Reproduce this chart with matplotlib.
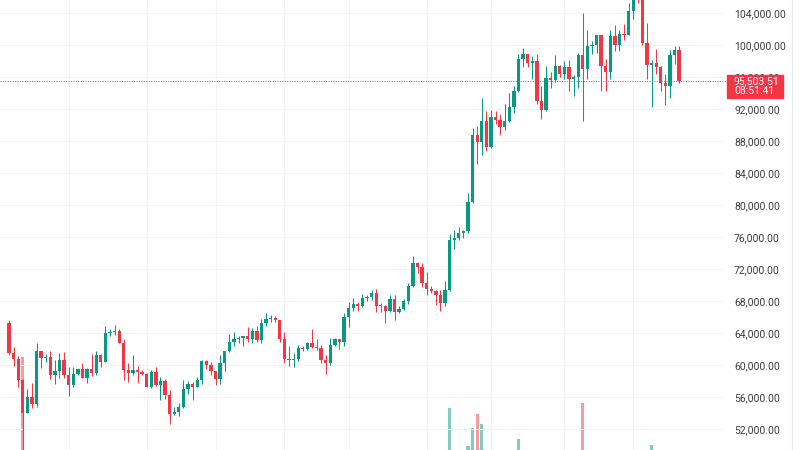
import numpy as np
import pandas as pd
import matplotlib
matplotlib.use('Agg')
import matplotlib.pyplot as plt
from matplotlib.lines import Line2D
from matplotlib.patches import Rectangle

plt.rcParams['font.family'] = ['Roboto', 'DejaVu Sans']

# daily candles, 2 Aug 2024 .. 26 Dec 2024
dates = pd.date_range('2024-08-02', '2024-12-26', freq='D')
first_open = 65300
closes = [
    # Aug
    61500, 60700, 58100, 54000, 56000, 55100, 61700, 60900, 61000, 58700,
    59300, 60600, 58700, 57500, 58900, 59500, 58400, 59500, 59000, 61200,
    60400, 64000, 64100, 64200, 62800, 59400, 59000, 59400, 59100, 58900,
    # Sep
    57300, 59100, 57500, 58000, 56200, 53900, 54100, 54800, 57000, 57600,
    57300, 58100, 60500, 60000, 59200, 58200, 60300, 61800, 62900, 63200,
    63400, 63600, 63300, 64300, 63100, 65200, 65800, 65900, 65600, 63300,
    # Oct
    60800, 60600, 60700, 62100, 62050, 62800, 62200, 62100, 60600, 60300,
    62500, 63200, 62900, 66000, 67100, 67600, 67400, 68400, 68450, 69000,
    67400, 67350, 66700, 68200, 66600, 67000, 68000, 69900, 72700, 72300,
    70200,
    # Nov
    69500, 69300, 68800, 67800, 69400, 75600, 75900, 76500, 76700, 80400,
    88700, 87900, 90500, 87300, 91000, 90600, 89800, 90500, 92300, 94300,
    98300, 98900, 97800, 98000, 93000, 91900, 95900, 95600, 97400, 96400,
    # Dec
    97200, 95800, 96000, 98800, 97000, 99900, 99950, 101200, 97400, 96600,
    101100, 100000, 101400, 101300, 104300, 106100, 106050, 100200, 97500, 97800,
    97300, 95200, 94900, 98700, 99400, 95503.51,
]
highs = [
    65600, 62200, 61100, 58300, 57000, 57700, 62700, 61800, 61400, 61800,
    60600, 61500, 61600, 59800, 59800, 59600, 60200, 59600, 61400, 61800,
    61400, 64900, 64500, 65000, 64500, 63200, 60200, 61200, 59900, 59400,
    59000, 59400, 59800, 58500, 58300, 56900, 54800, 55300, 58100, 58000,
    57900, 58500, 60600, 60600, 60400, 59200, 61300, 61800, 63900, 64100,
    63600, 63600, 64800, 64600, 64900, 65800, 66500, 66300, 66100, 65600,
    64100, 62400, 61500, 62500, 62400, 62900, 64500, 63200, 62500, 61300,
    63400, 63400, 63300, 66500, 67900, 68400, 67900, 68900, 68700, 69400,
    69500, 67800, 67500, 68800, 68800, 67400, 68300, 70300, 73600, 72900,
    72700,
    71600, 69900, 69400, 69400, 70500, 76400, 76900, 77200, 76900, 81500,
    89600, 89900, 93400, 91800, 91900, 91800, 91400, 92600, 94000, 94900,
    98900, 99600, 98900, 98600, 98900, 94900, 97400, 96600, 98700, 97500,
    98000, 98100, 96300, 99000, 104000, 101900, 100500, 101300, 101200, 98300,
    101900, 102500, 101900, 102600, 105200, 107800, 108300, 106500, 102800, 98100,
    99500, 97400, 96400, 99400, 99900, 99900,
]
lows = [
    61200, 59900, 57200, 49100, 54000, 54600, 54700, 59600, 60400, 58300,
    57600, 58400, 58400, 56100, 57300, 58800, 58400, 57800, 58600, 58800,
    59800, 60400, 63600, 63800, 62800, 58100, 57900, 58800, 57800, 58700,
    57200, 57100, 57400, 55600, 55700, 52600, 53800, 53600, 54600, 56400,
    55600, 57200, 57600, 59500, 58700, 57500, 57600, 59200, 61600, 62400,
    62800, 62400, 62900, 62800, 62900, 62700, 64900, 65400, 65400, 62900,
    60200, 59900, 59800, 60500, 61700, 61900, 62100, 61900, 60300, 58900,
    60000, 62400, 62000, 62400, 64800, 66800, 66700, 67200, 68000, 68100,
    66600, 66600, 65300, 66600, 65600, 66500, 66900, 67600, 69700, 71500,
    69700,
    68800, 69000, 67500, 66800, 67400, 69300, 74500, 75600, 75900, 76500,
    80200, 85100, 86200, 86700, 87100, 90100, 88800, 89400, 90400, 91500,
    94100, 97200, 97200, 95800, 92600, 90800, 91800, 94600, 95400, 96000,
    95700, 94300, 93600, 94600, 90500, 95700, 98900, 99000, 94200, 94300,
    95700, 99300, 99200, 100600, 101200, 103300, 105300, 100000, 95700, 92200,
    96400, 94200, 92500, 93400, 97600, 95200,
]
volumes = [
    38, 22, 25, 143, 45, 40, 44, 30, 14, 20, 32, 30, 30, 34, 28, 12, 14, 26, 30, 32,
    26, 40, 16, 14, 22, 38, 34, 28, 26, 12,
    16, 28, 30, 34, 30, 40, 16, 14, 32, 28, 30, 26, 32, 14, 14, 28, 32, 36, 34, 28,
    12, 12, 28, 26, 28, 34, 30, 12, 12, 30,
    40, 34, 28, 24, 10, 14, 30, 24, 26, 32, 32, 12, 14, 38, 44, 36, 30, 28, 12, 16,
    32, 26, 30, 28, 34, 14, 14, 32, 44, 30, 34,
    32, 16, 20, 32, 34, 92, 40, 36, 24, 54, 72, 86, 76, 45, 44, 30, 30, 40, 42, 44,
    61, 42, 30, 28, 45, 45, 40, 28, 30, 20,
    22, 40, 38, 42, 97, 45, 18, 22, 45, 40, 38, 34, 30, 18, 24, 45, 40, 45, 45, 55,
    28, 24, 32, 30, 18, 30,
]
price_ticks = list(range(52000, 104001, 4000))
grid_dates = ['2024-08-15', '2024-09-01', '2024-09-16', '2024-10-01', '2024-10-15',
              '2024-11-01', '2024-11-15', '2024-12-01', '2024-12-16']
countdown = '08:51:41'

opens = [first_open] + closes[:-1]

UP = '#089981'
DOWN = '#f23645'
GRID = '#f0f3fa'

W, H = 800, 450
plot_w = 726
step = 4.59  # pixels per candle
xlim = (-9 / step, (plot_w - 9) / step)
ylim = (104000 - 437 * 125, 104000 + 13 * 125)

fig = plt.figure(figsize=(W / 100, H / 100), dpi=100)
fig.patch.set_facecolor('white')

# volume pane sits at the bottom, mostly below the visible area
ax_vol = fig.add_axes([0, -50 / H, plot_w / W, 200 / H])
ax = fig.add_axes([0, 0, plot_w / W, 1])
ax.patch.set_alpha(0)

x = np.arange(len(dates))
o = np.array(opens, dtype=float)
c = np.array(closes, dtype=float)
colors = np.where(c >= o, UP, DOWN)

ax_vol.bar(x, volumes, width=0.72, color=colors, alpha=0.5, linewidth=0)
ax_vol.set_xlim(xlim)
ax_vol.set_ylim(0, 200)
ax_vol.axis('off')

# candles
ax.vlines(x, lows, highs, colors=colors, linewidth=0.75, zorder=2)
body_lo = np.minimum(o, c)
body_h = np.maximum(np.abs(c - o), 100)
ax.bar(x, body_h, bottom=body_lo, width=0.72, color=colors, linewidth=0, zorder=3)

# grid
for p in price_ticks:
    ax.axhline(p, color=GRID, linewidth=0.8, zorder=0)
for d in grid_dates:
    ax.axvline(dates.get_loc(pd.Timestamp(d)), color=GRID, linewidth=0.8, zorder=0)

# last price line
last = closes[-1]
ax.axhline(last, color=DOWN, linestyle=(0, (1, 1.5)), linewidth=0.7, zorder=4)

ax.set_xlim(xlim)
ax.set_ylim(ylim)

ax.yaxis.tick_right()
ax.set_yticks(price_ticks)
ax.set_yticklabels([f'{p:,.2f}' for p in price_ticks])
ax.tick_params(axis='y', length=0, pad=5.8, labelsize=7.5, labelcolor='#3d3d3d')
ax.set_xticks([])
for s in ax.spines.values():
    s.set_visible(False)

# price label on the scale
fig.canvas.draw()
y_pix = ax.transData.transform((0, last))[1]
fig.add_artist(Rectangle((727 / W, (y_pix - 17) / H), 56 / W, 23 / H,
                         transform=fig.transFigure, color=DOWN, zorder=5))
fig.text(734 / W, y_pix / H, f'{last:,.2f}', color='white', fontsize=7.5,
         va='center', ha='left', zorder=6)
fig.text(734 / W, (y_pix - 10.5) / H, countdown, color='white', fontsize=7.5,
         va='center', ha='left', zorder=6)

fig.add_artist(Line2D([792 / W, 792 / W], [0, 1], transform=fig.transFigure,
                      color='#e6e8ee', linewidth=0.8))

fig.savefig('out.png', dpi=100)
